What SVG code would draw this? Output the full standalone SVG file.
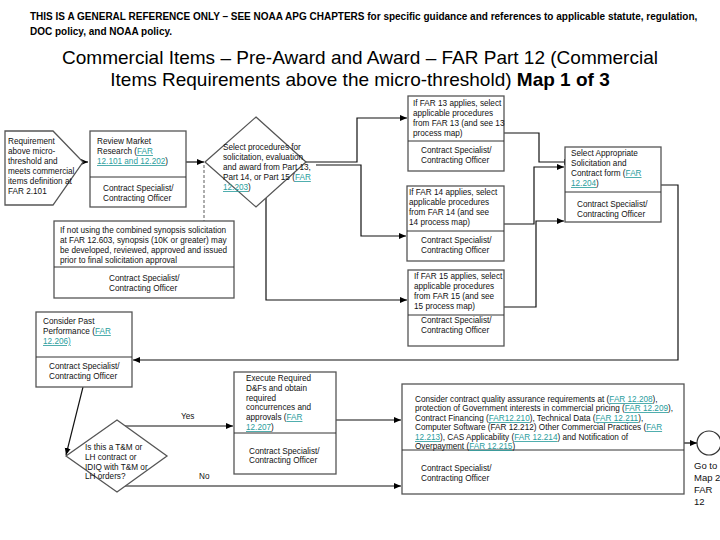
<svg xmlns="http://www.w3.org/2000/svg" width="720" height="540" viewBox="0 0 720 540">
<defs>
<marker id="ah" markerWidth="8" markerHeight="8" refX="7" refY="4" orient="auto" markerUnits="userSpaceOnUse"><path d="M0,1 L7,4 L0,7 Z" fill="#000"/></marker>
<style>
.b{fill:#fff;stroke:#555;stroke-width:1.3}
.d{stroke:#333;stroke-width:1}
.t{font-family:"Liberation Sans",Arial,sans-serif;font-size:8.2px;fill:#111}
.l{fill:#2a9d9d;text-decoration:underline}
.c{fill:none;stroke:#111;stroke-width:1.2}
</style>
</defs>
<rect width="720" height="540" fill="#fff"/>
<g id="header" font-family="Liberation Sans,Arial,sans-serif">
<text x="30" y="20" font-size="10" font-weight="bold">THIS IS A GENERAL REFERENCE ONLY – SEE NOAA APG CHAPTERS for specific guidance and references to applicable statute, regulation,</text>
<text x="30" y="35" font-size="10" font-weight="bold">DOC policy, and NOAA policy.</text>
<text x="360" y="64" font-size="19" text-anchor="middle">Commercial Items – Pre-Award and Award – FAR Part 12 (Commercial</text>
<text x="360" y="86" font-size="19" text-anchor="middle">Items Requirements above the micro-threshold) <tspan font-weight="bold">Map 1 of 3</tspan></text>
</g>
<g id="connectors">
<path class="c" d="M78,162 H88" marker-end="url(#ah)"/>
<path class="c" d="M186,162 H204" marker-end="url(#ah)"/>
<path d="M204,165 V221" stroke="#777" stroke-width="1.2" stroke-dasharray="3,2" fill="none"/>
<path class="c" d="M306,162 H357 V118 H407" marker-end="url(#ah)"/>
<path class="c" d="M316,165 H361 V236 H406" marker-end="url(#ah)"/>
<path class="c" d="M266,193 V300 H407" marker-end="url(#ah)"/>
<path class="c" d="M504,133 H539 V162 H571" marker-end="url(#ah)"/>
<path class="c" d="M504,224 H534 V167 H564" marker-end="url(#ah)"/>
<path class="c" d="M504,307 H536 V221 H564" marker-end="url(#ah)"/>
<path class="c" d="M661,185 H678 V360 H133" marker-end="url(#ah)"/>
<path class="c" d="M83,387 L66,455" marker-end="url(#ah)"/>
<path class="c" d="M125,426 H233" marker-end="url(#ah)"/>
<path class="c" d="M336,420 H401" marker-end="url(#ah)"/>
<path class="c" d="M125,486 H401" marker-end="url(#ah)"/>
<path class="c" d="M684,443 H697" marker-end="url(#ah)"/>
<text class="t" x="181" y="419">Yes</text>
<text class="t" x="199" y="479">No</text>
</g>
<g id="start">
<path class="b" d="M5,131 H53 L83,162 L53,205 H5 Z"/>
<text class="t" x="8" y="144">Requirement</text>
<text class="t" x="8" y="154">above micro-</text>
<text class="t" x="8" y="164">threshold and</text>
<text class="t" x="8" y="174">meets commercial</text>
<text class="t" x="8" y="184">items definition at</text>
<text class="t" x="8" y="194">FAR 2.101</text>
</g>
<g id="market">
<rect class="b" x="90" y="131" width="96" height="76"/>
<line class="d" x1="90" y1="177" x2="186" y2="177"/>
<text class="t" x="97" y="144">Review Market</text>
<text class="t" x="97" y="154">Research (<tspan class="l">FAR</tspan></text>
<text class="t" x="97" y="164"><tspan class="l">12.101 and 12.202</tspan>)</text>
<text class="t" x="103" y="191">Contract Specialist/</text>
<text class="t" x="103" y="201">Contracting Officer</text>
</g>
<g id="select-proc">
<path class="b" d="M256,117 L306,162 L256,207 L205,162 Z"/>
<text class="t" x="223" y="150">Select procedures for</text>
<text class="t" x="223" y="160">solicitation, evaluation</text>
<text class="t" x="223" y="170">and award from Part 13,</text>
<text class="t" x="223" y="180">Part 14, or Part 15 (<tspan class="l">FAR</tspan></text>
<text class="t" x="223" y="190"><tspan class="l">12.203</tspan>)</text>
</g>
<g id="synopsis">
<rect class="b" x="54" y="221" width="180" height="77"/>
<line class="d" x1="54" y1="267" x2="234" y2="267"/>
<text class="t" x="60" y="233">If not using the combined synopsis solicitation</text>
<text class="t" x="60" y="243">at FAR 12.603, synopsis (10K or greater) may</text>
<text class="t" x="60" y="253">be developed, reviewed, approved and issued</text>
<text class="t" x="60" y="263">prior to final solicitation approval</text>
<text class="t" x="109" y="281">Contract Specialist/</text>
<text class="t" x="109" y="291">Contracting Officer</text>
</g>
<g id="far13">
<rect class="b" x="408" y="96" width="96" height="75"/>
<line class="d" x1="408" y1="141" x2="504" y2="141"/>
<text class="t" x="413" y="106">If FAR 13 applies, select</text>
<text class="t" x="413" y="116">applicable procedures</text>
<text class="t" x="413" y="126">from FAR 13 (and see 13</text>
<text class="t" x="413" y="136">process map)</text>
<text class="t" x="421" y="153">Contract Specialist/</text>
<text class="t" x="421" y="163">Contracting Officer</text>
</g>
<g id="far14">
<rect class="b" x="407" y="186" width="97" height="75"/>
<line class="d" x1="407" y1="231" x2="504" y2="231"/>
<text class="t" x="409" y="195">If FAR 14 applies, select</text>
<text class="t" x="409" y="205">applicable procedures</text>
<text class="t" x="409" y="215">from FAR 14 (and see</text>
<text class="t" x="409" y="225">14 process map)</text>
<text class="t" x="421" y="243">Contract Specialist/</text>
<text class="t" x="421" y="253">Contracting Officer</text>
</g>
<g id="far15">
<rect class="b" x="408" y="270" width="96" height="76"/>
<line class="d" x1="408" y1="315" x2="504" y2="315"/>
<text class="t" x="414" y="279">If FAR 15 applies, select</text>
<text class="t" x="414" y="289">applicable procedures</text>
<text class="t" x="414" y="299">from FAR 15 (and see</text>
<text class="t" x="414" y="309">15 process map)</text>
<text class="t" x="421" y="323">Contract Specialist/</text>
<text class="t" x="421" y="333">Contracting Officer</text>
</g>
<g id="solform">
<rect class="b" x="565" y="147" width="96" height="75"/>
<line class="d" x1="565" y1="192" x2="661" y2="192"/>
<text class="t" x="571" y="156">Select Appropriate</text>
<text class="t" x="571" y="166">Solicitation and</text>
<text class="t" x="571" y="176">Contract form (<tspan class="l">FAR</tspan></text>
<text class="t" x="571" y="186"><tspan class="l">12.204</tspan>)</text>
<text class="t" x="577" y="207">Contract Specialist/</text>
<text class="t" x="577" y="217">Contracting Officer</text>
</g>
<g id="pastperf">
<rect class="b" x="36" y="312" width="96" height="75"/>
<line class="d" x1="36" y1="357" x2="132" y2="357"/>
<text class="t" x="43" y="324">Consider Past</text>
<text class="t" x="43" y="334">Performance (<tspan class="l">FAR</tspan></text>
<text class="t" x="43" y="344"><tspan class="l">12.206)</tspan></text>
<text class="t" x="49" y="369">Contract Specialist/</text>
<text class="t" x="49" y="379">Contracting Officer</text>
</g>
<g id="tm">
<path class="b" d="M117,420 L167,456 L117,492 L66,456 Z"/>
<text class="t" x="85" y="450">Is this a T&amp;M or</text>
<text class="t" x="85" y="460">LH contract or</text>
<text class="t" x="85" y="470">IDIQ with T&amp;M or</text>
<text class="t" x="85" y="479">LH orders?</text>
</g>
<g id="dfs">
<rect class="b" x="234" y="372" width="102" height="102"/>
<line class="d" x1="234" y1="433" x2="336" y2="433"/>
<text class="t" x="246" y="381">Execute Required</text>
<text class="t" x="246" y="391">D&amp;Fs and obtain</text>
<text class="t" x="246" y="401">required</text>
<text class="t" x="246" y="410">concurrences and</text>
<text class="t" x="246" y="420">approvals (<tspan class="l">FAR</tspan></text>
<text class="t" x="246" y="430"><tspan class="l">12.207</tspan>)</text>
<text class="t" x="249" y="454">Contract Specialist/</text>
<text class="t" x="249" y="463">Contracting Officer</text>
</g>
<g id="quality">
<rect class="b" x="402" y="384" width="282" height="110"/>
<line class="d" x1="402" y1="450" x2="684" y2="450"/>
<text class="t" x="415" y="402">Consider contract quality assurance requirements at  (<tspan class="l">FAR 12.208</tspan>),</text>
<text class="t" x="415" y="411">protection of Government interests in commercial pricing (<tspan class="l">FAR 12.209</tspan>),</text>
<text class="t" x="415" y="421">Contract Financing (<tspan class="l">FAR12.210</tspan>), Technical Data (<tspan class="l">FAR 12.211</tspan>),</text>
<text class="t" x="415" y="430">Computer Software (FAR 12.212) Other Commercial Practices (<tspan class="l">FAR</tspan></text>
<text class="t" x="415" y="440"><tspan class="l">12.213</tspan>), CAS Applicability (<tspan class="l">FAR 12.214</tspan>) and Notification of</text>
<text class="t" x="415" y="449">Overpayment (<tspan class="l">FAR 12.215</tspan>)</text>
<text class="t" x="421" y="471">Contract Specialist/</text>
<text class="t" x="421" y="481">Contracting Officer</text>
</g>
<g id="goto">
<circle cx="709" cy="443" r="12" fill="#fff" stroke="#333" stroke-width="1.2"/>
<g font-family="Liberation Sans,Arial,sans-serif" font-size="9.5" fill="#111">
<text x="694" y="469">Go to</text>
<text x="694" y="481">Map 2</text>
<text x="694" y="493">FAR</text>
<text x="694" y="505">12</text>
</g>
</g>
</svg>
